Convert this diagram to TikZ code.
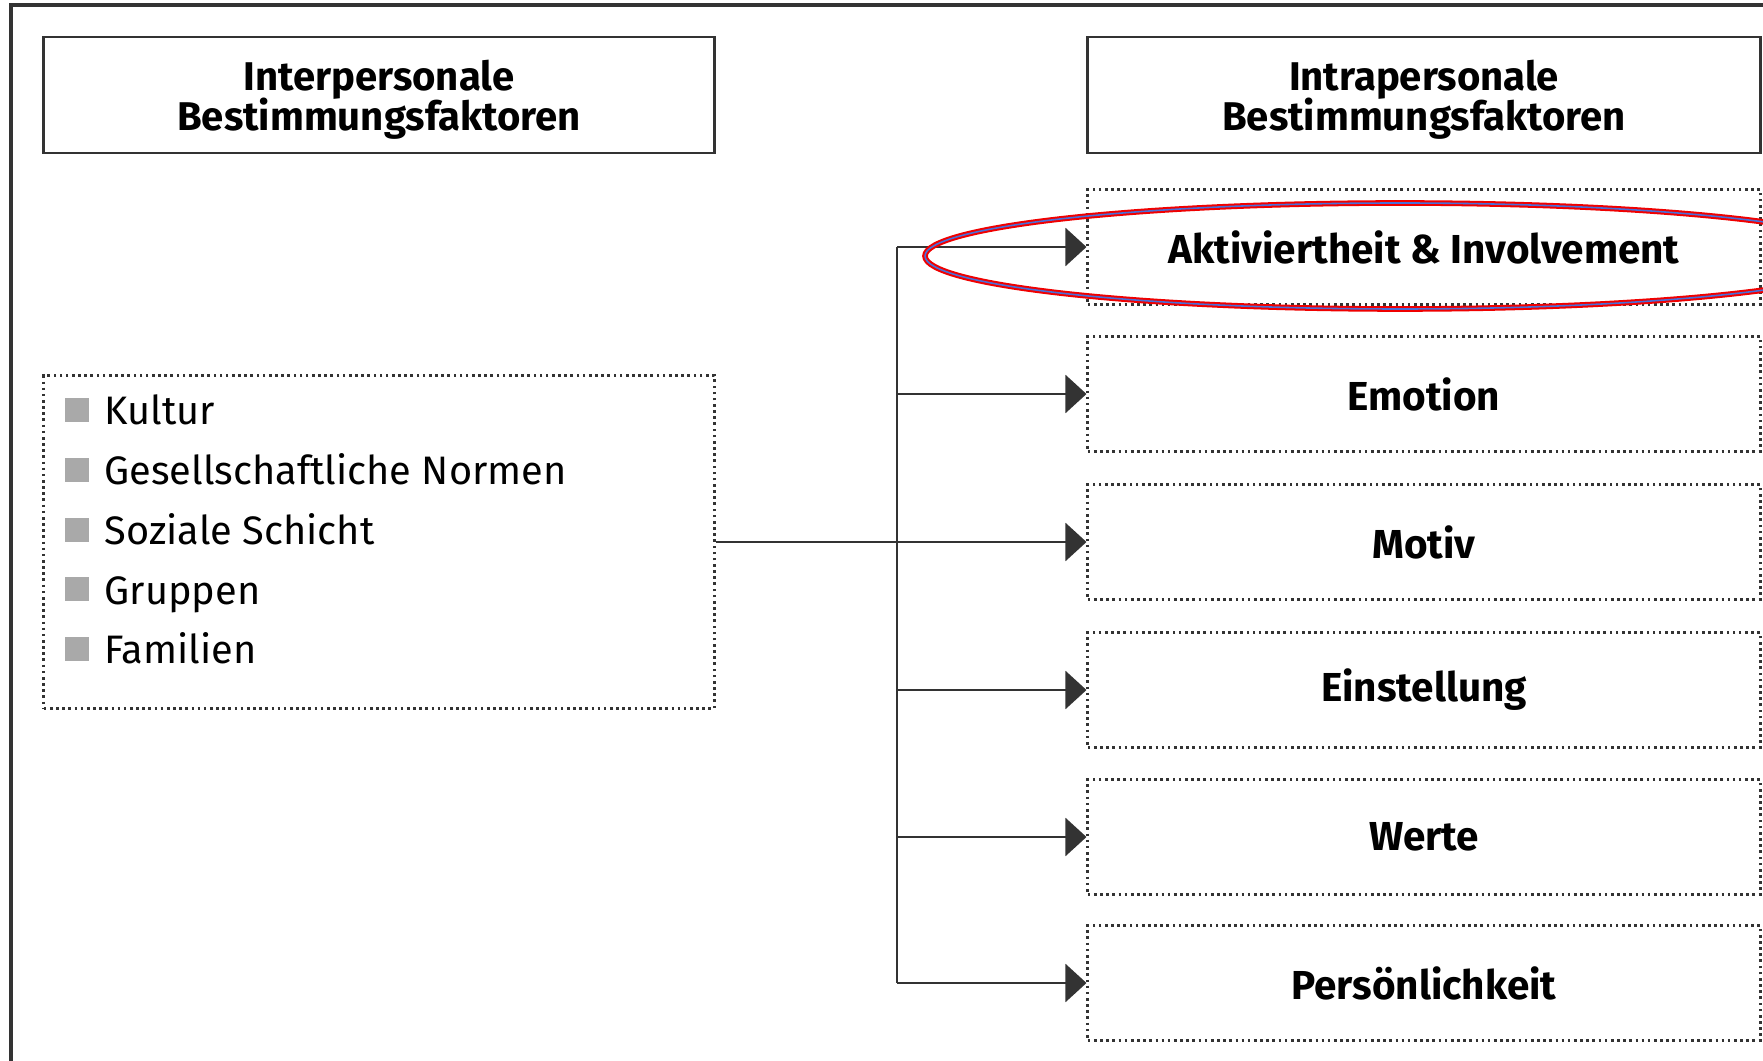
\documentclass[tikz,border=0pt]{standalone}
\usepackage{fontspec}
\setmainfont{Fira Sans}
\usetikzlibrary{arrows.meta, positioning}

\definecolor{framegray}{HTML}{333333}
\definecolor{bulletgray}{HTML}{A9A9A9}
\definecolor{markred}{HTML}{F00000}
\definecolor{markblue}{HTML}{4A6FD8}

\begin{document}
\begin{tikzpicture}[x=0.01cm, y=-0.01cm,
    headbox/.style={draw=framegray, line width=0.75pt, minimum width=6.70cm,
      minimum height=1.16cm, align=center, inner sep=0pt, text depth=0pt,
      font=\fontsize{11.4}{11.6}\selectfont\bfseries},
    factorbox/.style={draw=framegray, densely dotted, line width=0.75pt,
      minimum width=6.72cm, minimum height=1.15cm, inner sep=0pt,
      font=\fontsize{11.5}{12}\selectfont\bfseries},
    listbox/.style={draw=framegray, densely dotted, line width=0.75pt,
      minimum width=6.70cm, minimum height=3.33cm, inner sep=0pt},
    bulletbox/.style={fill=bulletgray, minimum size=0.24cm, inner sep=0pt},
    itemtext/.style={inner sep=0pt, font=\fontsize{11.3}{12}\selectfont},
    link/.style={draw=framegray, line width=0.6pt},
    pointer/.style={link, -{Triangle[length=0.21cm, width=0.38cm]}}]
    \useasboundingbox (0,0) rectangle (1763,1061);
    \clip (0,0) rectangle (1763,1061);

    % Outer frame
    \draw[framegray, line width=0.9pt] (11,1061) -- (11,5) -- (1763,5);

    % Headers
    \node[headbox] (inter) at (379,95) {Interpersonale\\[-1.3pt]Bestimmungsfaktoren};
    \node[headbox, minimum width=6.72cm] (intra) at (1424,95) {Intrapersonale\\[-1.3pt]Bestimmungsfaktoren};

    % Interpersonal factors
    \node[listbox] (list) at (379,542) {};
    \foreach \txt [count=\i] in {Kultur, Gesellschaftliche Normen, Soziale Schicht, Gruppen, Familien} {
      \node[bulletbox, anchor=south west] (bul\i) at (64, 423+59.7*\i-59.7) {};
      \node[itemtext, anchor=base west] (item\i) at (104, 425+59.7*\i-59.7) {\txt};
    }

    % Intrapersonal factors
    \node[factorbox] (aktiv) at (1424,247) {Aktiviertheit \& Involvement};
    \node[factorbox] (emo) at (1424,394) {Emotion};
    \node[factorbox] (motiv) at (1424,542) {Motiv};
    \node[factorbox] (einst) at (1424,690) {Einstellung};
    \node[factorbox] (werte) at (1424,837) {Werte};
    \node[factorbox] (pers) at (1424,983) {Persönlichkeit};

    % Connectors
    \coordinate (trunk) at (897,0);
    \draw[pointer] (list.east) -- (motiv.west);
    \draw[link] (trunk |- aktiv.west) -- (trunk |- pers.west);
    \foreach \b in {aktiv, emo, einst, werte, pers}
      \draw[pointer] (trunk |- \b.west) -- (\b.west);

    % Highlight
    \draw[markred, line width=1.6pt] (1400,256) ellipse [x radius=475, y radius=53];
    \draw[markblue, line width=0.45pt] (1400,256) ellipse [x radius=475, y radius=53];
\end{tikzpicture}
\end{document}
